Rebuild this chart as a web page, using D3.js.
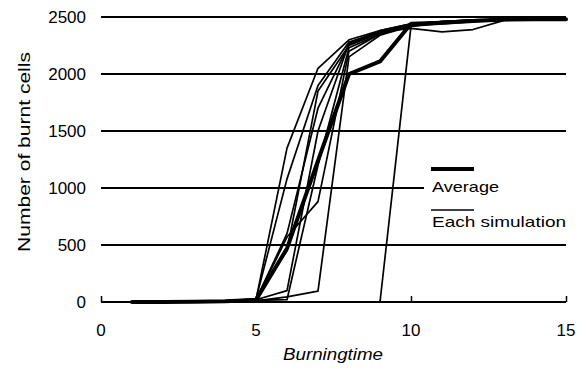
<!DOCTYPE html>
<html>
<head>
<meta charset="utf-8">
<script src="https://cdn.jsdelivr.net/npm/d3@7"></script>
<style>
  body { margin: 0; background: #fff; }
  text { font-family: "Liberation Sans", Arial, sans-serif; fill: #000; }
</style>
</head>
<body>
<svg id="chart" width="582" height="372"></svg>
<script>
// burning time steps
const times = [1, 2, 3, 4, 5, 6, 7, 8, 9, 10, 11, 12, 13, 14, 15];

// each simulation run (number of burnt cells)
const sim1 = [0, 0, 2, 5, 20, 1350, 2050, 2300, 2380, 2440, 2460, 2470, 2480, 2480, 2480];
const sim2 = [0, 1, 3, 8, 25, 1080, 1900, 2280, 2370, 2430, 2460, 2475, 2480, 2480, 2480];
const sim3 = [0, 0, 2, 6, 15, 570, 880, 2200, 2350, 2430, 2455, 2470, 2480, 2480, 2480];
const sim4 = [0, 0, 1, 4, 10, 45, 95, 2150, 2340, 2420, 2450, 2470, 2480, 2480, 2480];
const sim5 = [0, 0, 3, 10, 30, 450, 1850, 2250, 2360, 2440, 2460, 2475, 2480, 2480, 2480];
const sim6 = [0, 0, 2, 6, 20, 100, 1500, 2270, 2380, 2440, 2460, 2470, 2480, 2480, 2480];
const sim7 = [0, 0, 1, 5, 15, 20, 1200, 2230, 2350, 2420, 2450, 2470, 2480, 2480, 2480];
const sim8 = [0, 0, 0, 0, 0, 0, 0, 0, 0, 2420, 2440, 2460, 2475, 2480, 2480];
const sim9 = [0, 1, 2, 5, 20, 600, 1700, 2260, 2370, 2400, 2370, 2390, 2470, 2480, 2480];

// average of the runs
const average = [0, 0, 2, 6, 18, 470, 1240, 2000, 2110, 2440, 2450, 2465, 2478, 2480, 2480];

const xTicks = [0, 5, 10, 15];
const yTicks = [0, 500, 1000, 1500, 2000, 2500];

const svg = d3.select("#chart");

const x = d3.scaleLinear().domain([0, 15]).range([101, 566]);
const y = d3.scaleLinear().domain([0, 2500]).range([302, 17]);

// horizontal grid lines
svg.append("g")
  .selectAll("line")
  .data(yTicks)
  .enter()
  .append("line")
  .attr("x1", x(0))
  .attr("x2", x(15))
  .attr("y1", d => y(d))
  .attr("y2", d => y(d))
  .attr("stroke", "#000")
  .attr("stroke-width", 2);

// x axis (ticks point up)
const xAxis = svg.append("g")
  .attr("transform", "translate(0," + y(0) + ")")
  .call(d3.axisTop(x).tickValues(xTicks).tickSize(6).tickFormat(""));
xAxis.select(".domain").remove();
xAxis.selectAll("line").attr("stroke-width", 1.5);

svg.append("g")
  .selectAll("text")
  .data(xTicks)
  .enter()
  .append("text")
  .attr("x", d => x(d))
  .attr("y", 336)
  .attr("text-anchor", "middle")
  .style("font-size", "17px")
  .text(d => d);

// y tick labels
svg.append("g")
  .selectAll("text")
  .data(yTicks)
  .enter()
  .append("text")
  .attr("x", 86)
  .attr("y", d => y(d) + 6)
  .attr("text-anchor", "end")
  .style("font-size", "17px")
  .text(d => d);

// series lines
const line = d3.line()
  .x((d, i) => x(times[i]))
  .y(d => y(d));

const sims = [sim1, sim2, sim3, sim4, sim5, sim6, sim7, sim8, sim9];

svg.append("g")
  .selectAll("path")
  .data(sims)
  .enter()
  .append("path")
  .attr("d", line)
  .attr("fill", "none")
  .attr("stroke", "#000")
  .attr("stroke-width", 1.7)
  .attr("stroke-linejoin", "round");

svg.append("path")
  .attr("d", line(average))
  .attr("fill", "none")
  .attr("stroke", "#000")
  .attr("stroke-width", 4)
  .attr("stroke-linejoin", "round")
  .attr("stroke-linecap", "round");

// legend
const legend = svg.append("g");
legend.append("rect")
  .attr("x", 424)
  .attr("y", 160)
  .attr("width", 150)
  .attr("height", 72)
  .attr("fill", "#fff");
legend.append("line")
  .attr("x1", 431).attr("x2", 474)
  .attr("y1", 169).attr("y2", 169)
  .attr("stroke", "#000").attr("stroke-width", 4);
legend.append("text")
  .attr("x", 432).attr("y", 192)
  .attr("textLength", 67)
  .attr("lengthAdjust", "spacingAndGlyphs")
  .style("font-size", "15px")
  .text("Average");
legend.append("line")
  .attr("x1", 431).attr("x2", 474)
  .attr("y1", 210).attr("y2", 210)
  .attr("stroke", "#000").attr("stroke-width", 1.5);
legend.append("text")
  .attr("x", 432).attr("y", 227)
  .attr("textLength", 134)
  .attr("lengthAdjust", "spacingAndGlyphs")
  .style("font-size", "15px")
  .text("Each simulation");

// axis titles
svg.append("text")
  .attr("transform", "translate(30,152) rotate(-90)")
  .attr("text-anchor", "middle")
  .attr("textLength", 200)
  .attr("lengthAdjust", "spacingAndGlyphs")
  .style("font-size", "17px")
  .text("Number of burnt cells");

svg.append("text")
  .attr("x", 333)
  .attr("y", 360)
  .attr("text-anchor", "middle")
  .attr("textLength", 100)
  .attr("lengthAdjust", "spacingAndGlyphs")
  .style("font-size", "16px")
  .style("font-style", "italic")
  .text("Burningtime");
</script>
</body>
</html>
